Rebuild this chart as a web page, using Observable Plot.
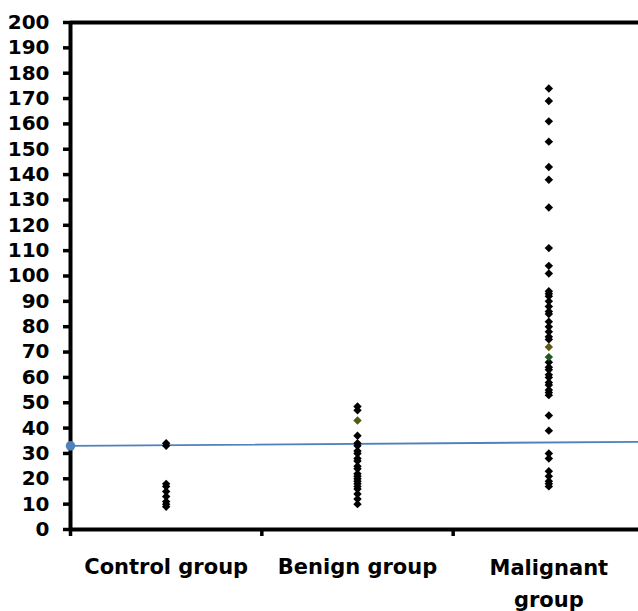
<!DOCTYPE html>
<html>
<head>
<meta charset="utf-8">
<script src="https://cdn.jsdelivr.net/npm/d3@7"></script>
<script src="https://cdn.jsdelivr.net/npm/@observablehq/plot@0.6"></script>
<style>
  html, body { margin: 0; padding: 0; background: #fff; }
  #chart { width: 638px; height: 611px; }
</style>
</head>
<body>
<div id="chart"></div>
<script>
// ---- data ----
const categories = ["Control group", "Benign group", "Malignant\ngroup"];
const categoryPos = [0.5, 1.5, 2.5];

const controlValues = [34, 33, 18, 17, 15, 13, 11, 10, 9];
const benignValues = [48.5, 47, 37, 34, 33, 31, 30, 28, 27, 25, 24, 22, 21, 20, 19, 18, 17, 16, 14, 12, 10];
const malignantValues = [174, 169, 161, 153, 143, 138, 127, 111, 104, 101, 94, 93, 92, 90, 88, 86, 85, 82, 80, 78, 76, 75, 66, 64, 63, 61, 60, 58, 57, 55, 54, 53, 45, 39, 30, 28, 23, 21, 19, 18, 17];

const greenGroups = ["Benign group", "Malignant\ngroup", "Malignant\ngroup"];
const greenValues = [43, 72, 68];
const greenColors = ["#4b5d16", "#5e5a14", "#1f5a1f"];

const cutoffX = [0, 3];
const cutoffY = [33, 34.6];

const yTicks = [0, 10, 20, 30, 40, 50, 60, 70, 80, 90, 100, 110, 120, 130, 140, 150, 160, 170, 180, 190, 200];
const xTicks = [0, 1, 2, 3];

// ---- build tables ----
const posOf = Object.fromEntries(categories.map((c, i) => [c, categoryPos[i]]));
const groupValues = [controlValues, benignValues, malignantValues];
const points = [];
groupValues.forEach((vals, i) => vals.forEach(v => points.push({group: categories[i], pos: categoryPos[i], value: v})));
const greens = greenValues.map((v, i) => ({pos: posOf[greenGroups[i]], value: v, color: greenColors[i]}));
const cutoff = cutoffX.map((x, i) => ({x, y: cutoffY[i]}));
const labels = categories.map((c, i) => ({label: c, pos: categoryPos[i]}));

const font = "DejaVu Sans, Liberation Sans, Arial, sans-serif";

const chart = Plot.plot({
  width: 638,
  height: 611,
  marginLeft: 70,
  marginTop: 22,
  marginBottom: 82,
  marginRight: 0,
  style: {fontFamily: font, background: "#fff", color: "#000"},
  x: {domain: [0, 3], range: [70, 644], axis: null},
  y: {domain: [0, 200], range: [529, 22], axis: null},
  marks: [
    Plot.ruleY([0, 200], {stroke: "#000", strokeWidth: 4}),
    Plot.ruleX([0], {stroke: "#000", strokeWidth: 4}),
    Plot.axisY({ticks: yTicks, tickSize: 7, tickPadding: 14, strokeWidth: 3.5, fontSize: 20, fontWeight: "bold", fill: "#000", stroke: "#000", label: null, tickFormat: d => String(d)}),
    Plot.axisX({ticks: xTicks, tickSize: 7, strokeWidth: 3.5, stroke: "#000", label: null, tickFormat: () => ""}),
    Plot.line(cutoff, {x: "x", y: "y", stroke: "#4f81bd", strokeWidth: 1.8}),
    Plot.dot(cutoff.slice(0, 1), {x: "x", y: "y", r: 4.8, fill: "#4f81bd", stroke: "none"}),
    Plot.dot(points, {x: "pos", y: "value", symbol: "diamond2", r: 3.8, fill: "#000", stroke: "none"}),
    Plot.dot(greens, {x: "pos", y: "value", symbol: "diamond2", r: 3.8, fill: d => d.color, stroke: "none"}),
    Plot.text(labels.slice(0, 2), {x: "pos", y: () => 0, text: "label", dy: 30, lineAnchor: "top", fontSize: 21, fontWeight: "bold", fill: "#000"}),
    Plot.text(labels.slice(2), {x: "pos", y: () => 0, text: "label", dy: 22, lineAnchor: "top", lineHeight: 1.55, fontSize: 21, fontWeight: "bold", fill: "#000"})
  ]
});
document.getElementById("chart").appendChild(chart);
</script>
</body>
</html>
